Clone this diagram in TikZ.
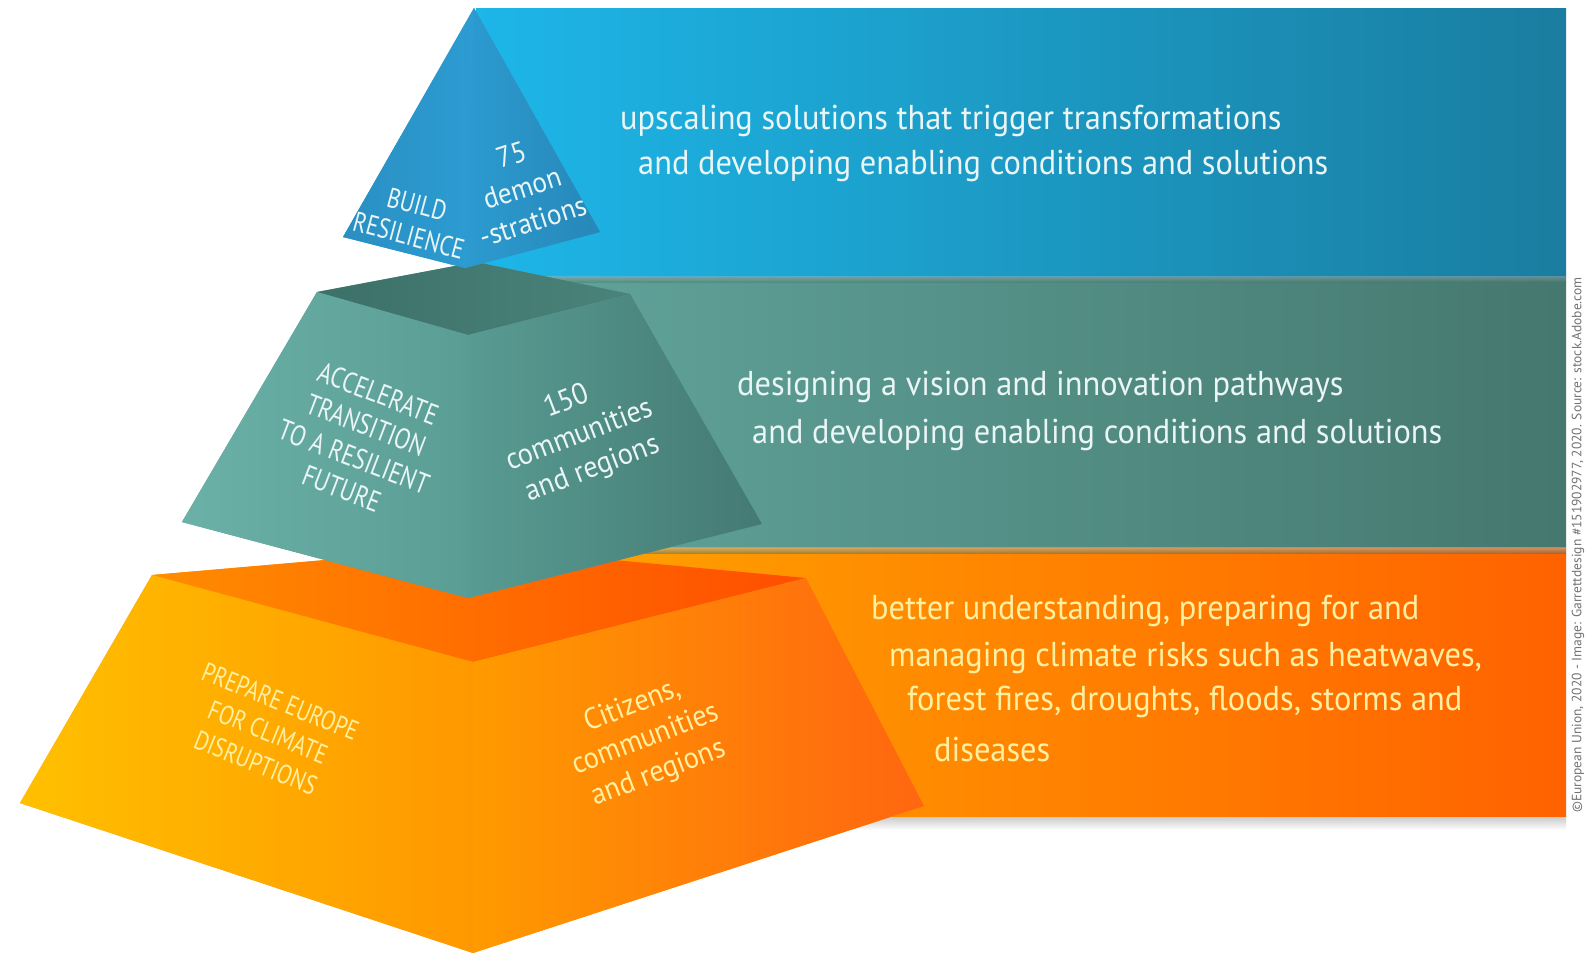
\documentclass[tikz,border=0pt]{standalone}
\usepackage{fontspec}
\setmainfont{PT Sans}[FakeStretch=0.94]
\newfontfamily\capsfont{PT Sans}[FakeStretch=0.8]
\newfontfamily\creditfont{PT Sans}
\definecolor{blueL}{HTML}{1DB6E8}
\definecolor{blueR}{HTML}{1A7DA0}
\definecolor{tealL}{HTML}{62A69D}
\definecolor{tealR}{HTML}{45786F}
\definecolor{orL}{HTML}{FFA800}
\definecolor{orR}{HTML}{FF6200}
\definecolor{pyrBlueA}{HTML}{2A8FC2}
\definecolor{pyrBlueB}{HTML}{2C9CD2}
\definecolor{pyrBlueC}{HTML}{2C9BD0}
\definecolor{pyrBlueD}{HTML}{2787B8}
\definecolor{tealA}{HTML}{6BB1A8}
\definecolor{tealB}{HTML}{5A9D94}
\definecolor{tealC}{HTML}{589B92}
\definecolor{tealD}{HTML}{447A73}
\definecolor{tealTopA}{HTML}{3C7068}
\definecolor{tealTopB}{HTML}{4A837B}
\definecolor{orA}{HTML}{FFC000}
\definecolor{orB}{HTML}{FF9800}
\definecolor{orC}{HTML}{FF9A00}
\definecolor{orD}{HTML}{FF6610}
\definecolor{orTopA}{HTML}{FF8C00}
\definecolor{orTopB}{HTML}{FF4E00}
\definecolor{paleY}{HTML}{FFEFA0}
\definecolor{paleW}{HTML}{EAF5F6}
\tikzset{
  bandtext/.style={anchor=west, inner sep=0pt, font=\fontsize{34.5}{40}\selectfont},
  facecaps/.style={align=center, inner sep=0pt, font=\capsfont\fontsize{29}{34}\selectfont},
  facelow/.style={align=center, inner sep=0pt, font=\fontsize{30}{36}\selectfont},
}
\begin{document}
\begin{tikzpicture}[x=1pt,y=-1pt]
\useasboundingbox (0,0) rectangle (1589,956);
\fill[white] (0,0) rectangle (1589,956);

% ---------- bands ----------
\shade[top color=black!22, bottom color=white] (476,816) rectangle (1566,830);
\path[left color=orL, right color=orR] (470,547) rectangle (1566,816);
\path[left color=tealL, right color=tealR] (470,276) rectangle (1566,547);
\shade[top color=black!25, bottom color=tealL!0!tealR, opacity=0.5] (470,547) rectangle (1566,553);
\path[left color=blueL, right color=blueR] (476,8) rectangle (1566,276);
\shade[top color=black!30, bottom color=tealR, opacity=0.4] (476,276) rectangle (1566,282);

% band texts
\node[bandtext, text=paleW] (b1) at (620,121) {upscaling solutions that trigger transformations};
\node[bandtext, text=paleW] (b2) at (638,166) {and developing enabling conditions and solutions};
\node[bandtext, text=paleW] (t1) at (737,387) {designing a vision and innovation pathways};
\node[bandtext, text=paleW] (t2) at (752,435) {and developing enabling conditions and solutions};
\node[bandtext, text=paleY] (o1) at (871,611) {better understanding, preparing for and};
\node[bandtext, text=paleY] (o2) at (889,658) {managing climate risks such as heatwaves,};
\node[bandtext, text=paleY] (o3) at (907,702) {forest fires, droughts, floods, storms and};
\node[bandtext, text=paleY] (o4) at (934,749) {diseases};

% ---------- bottom frustum (orange) ----------
\fill[orB] (152,575) -- (476,547) -- (806,578) -- (924,806) -- (473,953) -- (20,803) -- cycle;
\path[left color=orTopA, right color=orTopB] (152,575) -- (476,547) -- (806,578) -- (473,662) -- cycle;
\path[left color=orA, right color=orB] (152,575) -- (473,662) -- (473,953) -- (20,803) -- cycle;
\path[left color=orC, right color=orD] (473,662) -- (806,578) -- (924,806) -- (473,953) -- cycle;

% ---------- middle frustum (teal) ----------
\fill[tealB] (317,292) -- (476,262) -- (630,294) -- (762,524) -- (468,598) -- (182,522) -- cycle;
\path[left color=tealTopA, right color=tealTopB] (317,292) -- (476,262) -- (630,294) -- (468,335) -- cycle;
\path[left color=tealA, right color=tealB] (317,292) -- (468,335) -- (468,598) -- (182,522) -- cycle;
\path[left color=tealC, right color=tealD] (468,335) -- (630,294) -- (762,524) -- (468,598) -- cycle;

% ---------- top pyramid (blue) ----------
\fill[pyrBlueC] (474,8) -- (600,232) -- (465,268) -- (343,237) -- cycle;
\path[left color=pyrBlueA, right color=pyrBlueB] (474,8) -- (465,268) -- (343,237) -- cycle;
\path[left color=pyrBlueC, right color=pyrBlueD] (474,8) -- (600,232) -- (465,268) -- cycle;

% face texts
\node[facecaps, text=paleW, rotate=-15, font=\capsfont\fontsize{28}{32}\selectfont] (br) at (413,220) {BUILD\\RESILIENCE};
\node[facelow, text=paleW, rotate=18, font=\fontsize{29}{35}\selectfont] (d75) at (522,188) {75\\demon\\-strations};
\node[facecaps, text=paleW, rotate=-21] (acc) at (360,441) {ACCELERATE\\TRANSITION\\TO A RESILIENT\\FUTURE};
\node[facelow, text=paleW, rotate=21] (c150) at (580,436) {150\\communities\\and regions};
\node[facecaps, text=paleY, rotate=-22, font=\capsfont\fontsize{27}{33}\selectfont] (prep) at (268,732) {PREPARE EUROPE\\FOR CLIMATE\\DISRUPTIONS};
\node[facelow, text=paleY, rotate=21] (cit) at (646,740) {Citizens,\\communities\\and regions};

% credit
\node[rotate=90, text=black!55, inner sep=0pt, font=\creditfont\fontsize{13.5}{15}\selectfont] (credit) at (1578,545)
  {©European Union, 2020 - Image: Garrettdesign \#151902977, 2020. Source: stock.Adobe.com};
\end{tikzpicture}
\end{document}
